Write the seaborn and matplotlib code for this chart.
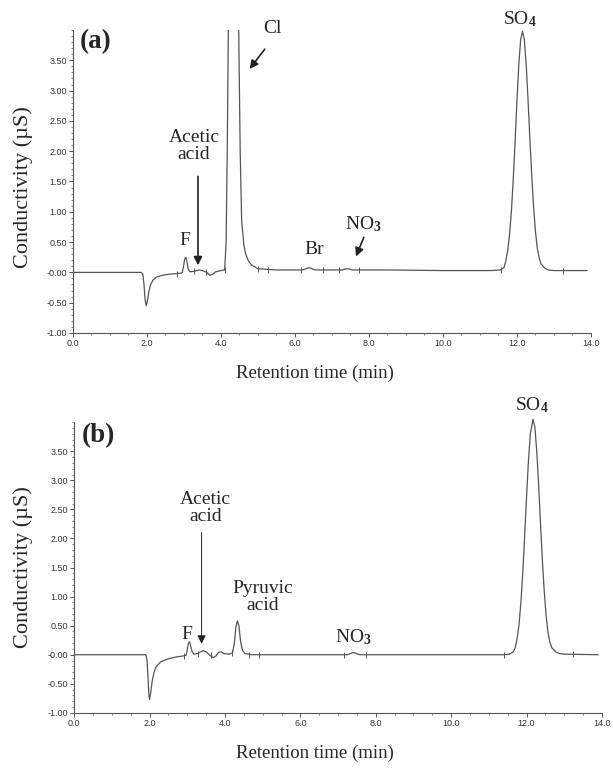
import matplotlib
matplotlib.use("Agg")
import matplotlib.pyplot as plt
import seaborn as sns
import pandas as pd
from matplotlib.ticker import FixedLocator, MultipleLocator

# Chromatogram (a): retention time (min) and conductivity (uS)
time_a = [0.00, 1.00, 1.85, 1.89, 1.92, 1.95, 1.98, 2.01, 2.05, 2.10, 2.16, 2.25, 2.40, 2.60, 2.80, 2.95,
          2.99, 3.02, 3.05, 3.08, 3.12, 3.16, 3.30, 3.40, 3.50, 3.62, 3.70, 3.78, 3.86, 4.00,
          4.10, 4.14, 4.17, 4.20, 4.25, 4.33, 4.42, 4.48, 4.52, 4.56, 4.62, 4.67, 4.75, 4.83, 5.00,
          5.50, 6.20, 6.30, 6.38, 6.46, 6.55, 7.30, 7.38, 7.45, 7.55, 8.50, 10.00, 11.30,
          11.55, 11.65, 11.70, 11.75, 11.80, 11.85, 11.90, 11.95, 12.00, 12.05, 12.10, 12.15,
          12.20, 12.25, 12.30, 12.35, 12.40, 12.45, 12.50, 12.55, 12.60, 12.65, 12.75, 12.85, 13.00, 13.90]
cond_a = [0.00, 0.00, 0.00, -0.03, -0.20, -0.45, -0.55, -0.48, -0.32, -0.20, -0.13, -0.08, -0.05, -0.03, -0.02, -0.01,
          0.10, 0.22, 0.25, 0.18, 0.05, 0.01, 0.02, 0.04, 0.03, 0.00, -0.05, -0.03, 0.01, 0.03,
          0.04, 0.50, 2.00, 4.00, 8.00, 12.0, 8.00, 4.00, 2.00, 0.85, 0.45, 0.30, 0.18, 0.12, 0.06,
          0.04, 0.04, 0.06, 0.08, 0.06, 0.04, 0.04, 0.06, 0.06, 0.04, 0.04, 0.03, 0.03,
          0.04, 0.08, 0.19, 0.36, 0.62, 1.01, 1.53, 2.16, 2.82, 3.42, 3.84, 3.98,
          3.84, 3.43, 2.85, 2.20, 1.60, 1.08, 0.68, 0.40, 0.24, 0.14, 0.07, 0.04, 0.03, 0.03]

# Chromatogram (b)
time_b = [0.00, 1.00, 1.90, 1.93, 1.96, 1.98, 2.00, 2.03, 2.07, 2.12, 2.18, 2.30, 2.50, 2.70, 2.90, 2.97,
          3.00, 3.03, 3.06, 3.09, 3.13, 3.18, 3.28, 3.35, 3.42, 3.50, 3.60, 3.69, 3.76, 3.83, 3.90, 3.97,
          4.10, 4.20, 4.25, 4.29, 4.33, 4.37, 4.41, 4.46, 4.53, 4.70, 5.50,
          7.25, 7.33, 7.40, 7.48, 7.58, 9.00, 11.40,
          11.55, 11.65, 11.70, 11.75, 11.80, 11.85, 11.90, 11.95, 12.00, 12.05, 12.10, 12.17,
          12.22, 12.27, 12.32, 12.37, 12.42, 12.47, 12.52, 12.57, 12.62, 12.67, 12.77, 12.87, 13.00, 13.90]
cond_b = [0.00, 0.00, 0.00, -0.08, -0.40, -0.68, -0.77, -0.65, -0.45, -0.30, -0.20, -0.12, -0.07, -0.04, -0.02, -0.01,
          0.08, 0.20, 0.22, 0.15, 0.05, 0.01, 0.02, 0.05, 0.07, 0.05, -0.01, -0.05, -0.02, 0.04, 0.05, 0.02,
          0.01, 0.03, 0.20, 0.48, 0.58, 0.50, 0.25, 0.08, 0.02, 0.00, 0.00,
          0.00, 0.02, 0.04, 0.02, 0.00, 0.00, 0.00,
          0.01, 0.05, 0.12, 0.28, 0.52, 0.90, 1.42, 2.05, 2.72, 3.34, 3.80, 4.05,
          3.92, 3.50, 2.92, 2.25, 1.62, 1.08, 0.66, 0.38, 0.21, 0.12, 0.05, 0.02, 0.01, 0.00]

# integration marks drawn on the trace
marks_a = [2.80, 3.27, 3.59, 4.10, 4.99, 5.28, 6.17, 6.75, 7.19, 7.73, 11.56, 13.24]
marks_b = [2.92, 3.29, 3.64, 4.19, 4.63, 4.91, 7.15, 7.75, 11.40, 13.22]

xticks = [0.0, 2.0, 4.0, 6.0, 8.0, 10.0, 12.0, 14.0]
xtick_labels = ["0.0", "2.0", "4.0", "6.0", "8.0", "10.0", "12.0", "14.0"]
yticks = [-1.0, -0.5, 0.0, 0.5, 1.0, 1.5, 2.0, 2.5, 3.0, 3.5]
ytick_labels = ["-1.00", "-0.50", "-0.00", "0.50", "1.00", "1.50", "2.00", "2.50", "3.00", "3.50"]

assert len(time_a) == len(cond_a) and len(time_b) == len(cond_b)

SERIF = "Liberation Serif"
SANS = "Liberation Sans"
GREY = "#555555"

sns.set_style("ticks")
plt.rcParams["font.family"] = [SERIF, "DejaVu Serif"]
plt.rcParams["mathtext.fontset"] = "custom"
plt.rcParams["mathtext.rm"] = SERIF
plt.rcParams["mathtext.it"] = SERIF + ":italic"
plt.rcParams["mathtext.bf"] = SERIF + ":bold"


def draw_panel(ax, t, c, marks, ylim_top):
    df = pd.DataFrame({"t": t, "c": c})
    sns.lineplot(data=df, x="t", y="c", ax=ax, color=GREY, lw=0.9, sort=False, estimator=None)
    base = [c[min(range(len(t)), key=lambda i: abs(t[i] - m))] for m in marks]
    ax.scatter(marks, base, marker="|", s=14, color=GREY, lw=0.7, zorder=3)

    ax.set_xlim(0, 14)
    ax.set_ylim(-1.0, ylim_top)
    ax.xaxis.set_major_locator(FixedLocator(xticks))
    ax.set_xticklabels(xtick_labels)
    ax.xaxis.set_minor_locator(MultipleLocator(0.5))
    ax.yaxis.set_major_locator(FixedLocator(yticks))
    ax.set_yticklabels(ytick_labels)
    ax.yaxis.set_minor_locator(MultipleLocator(0.1))
    ax.tick_params(which="major", length=3, width=0.7, color=GREY, labelcolor="#333333",
                   labelsize=6.5, pad=1.5)
    ax.tick_params(which="minor", length=1.5, width=0.5, color=GREY)
    for lab in ax.get_xticklabels() + ax.get_yticklabels():
        lab.set_family(SANS)
    for side in ["left", "bottom"]:
        ax.spines[side].set_color(GREY)
        ax.spines[side].set_linewidth(0.8)
    sns.despine(ax=ax)
    ax.set_xlabel("Retention time (min)", fontsize=13.5)
    ax.set_ylabel("Conductivity (µS)", fontsize=16)


fig = plt.figure(figsize=(6.13, 7.69), dpi=100)
ax_a = fig.add_axes([0.119, 0.567, 0.845, 0.394])
ax_b = fig.add_axes([0.121, 0.073, 0.861, 0.378])

draw_panel(ax_a, time_a, cond_a, marks_a, 4.0)
draw_panel(ax_b, time_b, cond_b, marks_b, 4.0)
for ln in ax_b.get_lines():
    ln.set_clip_on(False)

ax_a.xaxis.set_label_coords(0.467, -0.105)
ax_a.yaxis.set_label_coords(-0.077, 0.482)
ax_b.xaxis.set_label_coords(0.456, -0.11)
ax_b.yaxis.set_label_coords(-0.078, 0.50)

txt = dict(fontsize=14, ha="center", va="center", linespacing=1.0)
arrow_bold = dict(arrowstyle="-|>,head_width=0.25,head_length=0.5", color="#222222", lw=1.2)
arrow_thin = dict(arrowstyle="-|>,head_width=0.25,head_length=0.5", color="#222222", lw=0.7)

# panel (a)
ax_a.text(0.013, 0.96, "(a)", transform=ax_a.transAxes, fontsize=19.5, fontweight="bold",
          ha="left", va="center")
ax_a.annotate("", xy=(4.73, 3.32), xytext=(5.23, 3.72), arrowprops=arrow_bold)
ax_a.text(5.38, 4.02, "Cl", clip_on=False, **txt)
ax_a.text(3.27, 2.08, "Acetic\nacid", **txt)
ax_a.annotate("", xy=(3.38, 0.07), xytext=(3.38, 1.63), arrowprops=arrow_bold)
ax_a.text(3.03, 0.52, "F", **txt)
ax_a.text(6.51, 0.38, "Br", **txt)
ax_a.text(7.86, 0.80, r"NO$_\mathbf{3}$", **txt)
ax_a.annotate("", xy=(7.62, 0.22), xytext=(7.89, 0.62), arrowprops=arrow_bold)
ax_a.text(12.08, 4.18, r"SO$_\mathbf{4}$", clip_on=False, **txt)

# panel (b)
ax_b.text(0.015, 0.955, "(b)", transform=ax_b.transAxes, fontsize=19.5, fontweight="bold",
          ha="left", va="center")
ax_b.text(3.48, 2.53, "Acetic\nacid", **txt)
ax_b.annotate("", xy=(3.38, 0.14), xytext=(3.38, 2.15), arrowprops=arrow_thin)
ax_b.text(2.98, 0.34, "F", **txt)
ax_b.text(5.01, 1.00, "Pyruvic\nacid", **txt)
ax_b.text(7.41, 0.30, r"NO$_\mathbf{3}$", **txt)
ax_b.text(12.14, 4.30, r"SO$_\mathbf{4}$", clip_on=False, **txt)

fig.savefig("out.png", dpi=100)
